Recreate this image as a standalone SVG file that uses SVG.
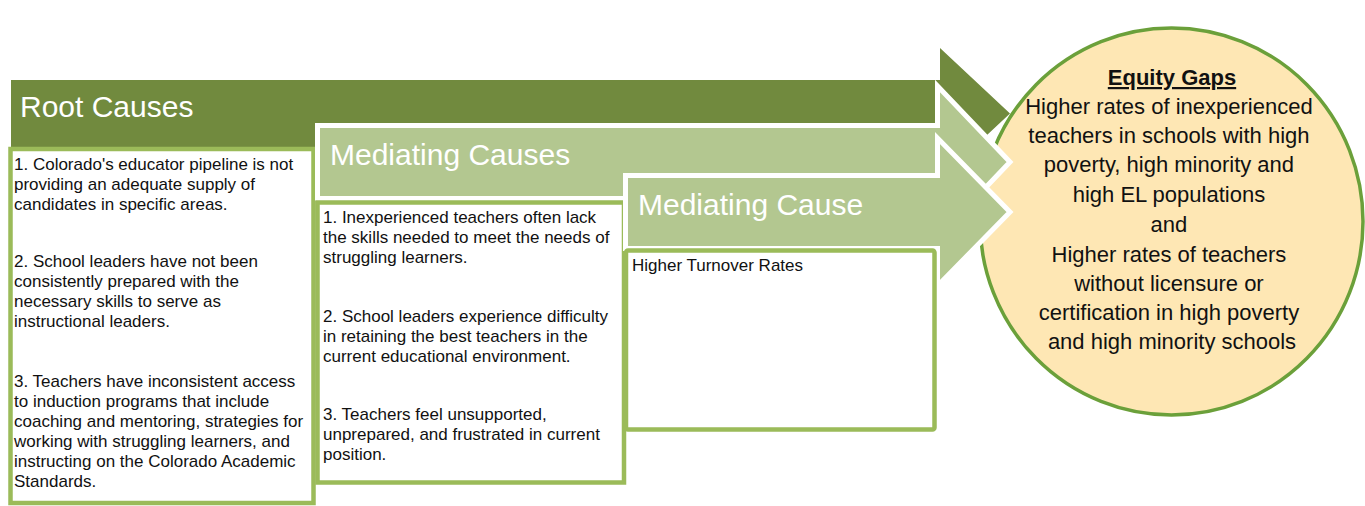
<svg xmlns="http://www.w3.org/2000/svg" width="1365" height="506" viewBox="0 0 1365 506">
<style>
.dark{fill:#718a3e}
.light{fill:#b3c790;stroke:#fff;stroke-width:5;stroke-linejoin:miter}
.box{fill:#fff;stroke:#9bbb59;stroke-width:4.5}
.title{font-family:"Liberation Sans",Arial,sans-serif;font-size:30px;fill:#fff}
.body{font-family:"Liberation Sans",Arial,sans-serif;font-size:17px;fill:#111}
.circ{font-family:"Liberation Sans",Arial,sans-serif;font-size:22px;fill:#111;text-anchor:middle}
</style>
<rect width="1365" height="506" fill="#fff"/>
<g id="equity-gaps">
<ellipse cx="1171.5" cy="221.5" rx="191.5" ry="193.5" fill="#fee7b4" stroke="#6ba03a" stroke-width="3.5"/>
</g>
<g id="root-causes">
<polygon class="dark" points="11,80 940,80 940,48 1010,113.5 940,179 940,147 11,147"/>
<text class="title" x="20" y="117">Root Causes</text>
<rect class="box" x="10.5" y="149" width="303" height="354"/>
<text class="body">
<tspan x="14" y="170">1. Colorado's educator pipeline is not</tspan>
<tspan x="14" y="190">providing an adequate supply of</tspan>
<tspan x="14" y="210">candidates in specific areas.</tspan>
<tspan x="14" y="267">2. School leaders have not been</tspan>
<tspan x="14" y="287">consistently prepared with the</tspan>
<tspan x="14" y="307">necessary skills to serve as</tspan>
<tspan x="14" y="327">instructional leaders.</tspan>
<tspan x="14" y="387">3. Teachers have inconsistent access</tspan>
<tspan x="14" y="407">to induction programs that include</tspan>
<tspan x="14" y="427">coaching and mentoring, strategies for</tspan>
<tspan x="14" y="447">working with struggling learners, and</tspan>
<tspan x="14" y="467">instructing on the Colorado Academic</tspan>
<tspan x="14" y="487">Standards.</tspan>
</text>
</g>
<g id="mediating-causes">
<polygon class="light" points="317.5,125.5 937.5,125.5 937.5,86 1010,162 937.5,238 937.5,198.5 317.5,198.5"/>
<text class="title" x="330" y="165">Mediating Causes</text>
<rect class="box" x="317.5" y="202.5" width="306.5" height="280"/>
<text class="body">
<tspan x="323" y="223">1. Inexperienced teachers often lack</tspan>
<tspan x="323" y="243">the skills needed to meet the needs of</tspan>
<tspan x="323" y="263">struggling learners.</tspan>
<tspan x="323" y="322">2. School leaders experience difficulty</tspan>
<tspan x="323" y="342">in retaining the best teachers in the</tspan>
<tspan x="323" y="362">current educational environment.</tspan>
<tspan x="323" y="420">3. Teachers feel unsupported,</tspan>
<tspan x="323" y="440">unprepared, and frustrated in current</tspan>
<tspan x="323" y="460">position.</tspan>
</text>
</g>
<g id="mediating-cause">
<polygon class="light" points="625.5,175.5 937.5,175.5 937.5,138 1010,212 937.5,286 937.5,248.5 625.5,248.5"/>
<text class="title" x="638" y="215" font-size="30.5">Mediating Cause</text>
<rect class="box" x="626" y="250.5" width="308.5" height="179" rx="2"/>
<text class="body" x="632" y="271">Higher Turnover Rates</text>
</g>
<g id="equity-text">
<text class="circ" x="1172" y="85" font-weight="bold" font-size="20.5" text-decoration="underline">Equity Gaps</text>
<text class="circ">
<tspan x="1172" y="114">Higher rates of inexperienced</tspan>
<tspan x="1172" y="143">teachers in schools with high</tspan>
<tspan x="1172" y="172">poverty, high minority and</tspan>
<tspan x="1172" y="202">high EL populations</tspan>
<tspan x="1172" y="232">and</tspan>
<tspan x="1172" y="262">Higher rates of teachers</tspan>
<tspan x="1172" y="291">without licensure or</tspan>
<tspan x="1172" y="320">certification in high poverty</tspan>
<tspan x="1172" y="349">and high minority schools</tspan>
</text>
</g>
<g id="connectors"></g>
</svg>
